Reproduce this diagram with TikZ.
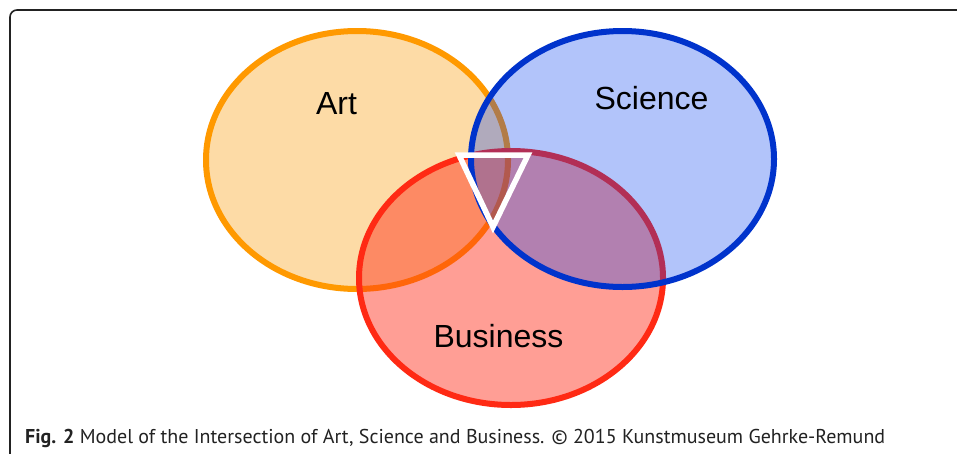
\documentclass[tikz,border=0pt]{standalone}
\usepackage{fontspec}
\setmainfont{Liberation Sans}
\newfontfamily\capfont{PT Sans}
\definecolor{artline}{HTML}{FF9900}
\definecolor{artfill}{HTML}{FDDBA6}
\definecolor{sciline}{HTML}{0033CC}
\definecolor{scifill}{HTML}{003CF0}
\definecolor{busline}{HTML}{FF2A14}
\definecolor{busfill}{HTML}{FF2814}
\definecolor{frame}{HTML}{222222}
\begin{document}
\begin{tikzpicture}[x=1pt,y=-1pt,
  setring/.style={line width=6pt},
  setlabel/.style={font=\fontsize{32}{36}\selectfont, anchor=base, inner sep=0pt},
]
\useasboundingbox (0,0) rectangle (957,453);
\fill[white] (0,0) rectangle (957,453);
% frame
\draw[frame, line width=1.6pt, rounded corners=7pt] (10,460) -- (10,10) -- (965,10);
% Art
\draw[setring, draw=artline, fill=artfill] (357,160) ellipse [x radius=151, y radius=129];
% Business
\draw[setring, draw=busline, fill=busfill, fill opacity=0.45] (511,278) ellipse [x radius=152, y radius=127];
% Science
\draw[setring, draw=sciline, fill=scifill, fill opacity=0.3] (622.5,159) ellipse [x radius=151.5, y radius=128];
% triangle
\coordinate (tl) at (459,155);
\coordinate (tr) at (528,155);
\coordinate (tb) at (493,227);
\draw[white, line width=5.5pt, line join=miter] (tl) -- (tr) -- (tb) -- cycle;
% labels
\node[setlabel] (art) at (336.5,114) {Art};
\node[setlabel] (sci) at (651.5,109) {Science};
\node[setlabel] (bus) at (498.5,347) {Business};
% caption
\node[anchor=base west, inner sep=0pt, font=\capfont\fontsize{20}{24}\selectfont, text=frame] (cap) at (25,443)
  {\textbf{Fig. 2} Model of the Intersection of Art, Science and Business. \textcopyright{} 2015 Kunstmuseum Gehrke-Remund};
\end{tikzpicture}
\end{document}
